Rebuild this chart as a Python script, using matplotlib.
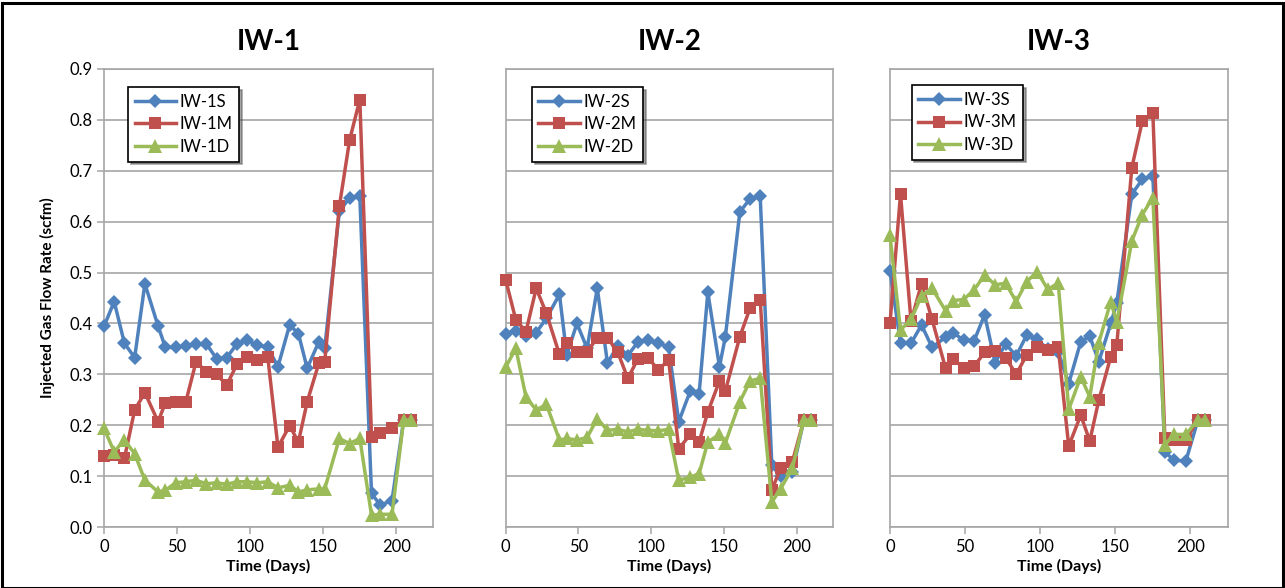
import matplotlib
matplotlib.use("Agg")
import matplotlib.pyplot as plt
from matplotlib.patches import Rectangle

plt.rcParams['font.family'] = ['Lato', 'DejaVu Sans']

# --- data ---
days = [0, 7, 14, 21, 28, 37, 42, 49, 56, 63, 70, 77, 84, 91, 98, 105, 112,
        119, 127, 133, 139, 147, 151, 161, 168, 175, 183, 189, 197, 205, 210]

iw1_s = [0.394, 0.443, 0.361, 0.333, 0.478, 0.395, 0.353, 0.353, 0.356, 0.360, 0.360,
         0.331, 0.333, 0.360, 0.367, 0.357, 0.353, 0.315, 0.397, 0.380, 0.312, 0.364,
         0.351, 0.620, 0.647, 0.650, 0.066, 0.043, 0.052, 0.210, 0.210]
iw1_m = [0.139, 0.141, 0.135, 0.230, 0.264, 0.207, 0.244, 0.245, 0.246, 0.325, 0.305,
         0.300, 0.279, 0.320, 0.335, 0.328, 0.335, 0.157, 0.199, 0.167, 0.246, 0.322,
         0.325, 0.630, 0.760, 0.840, 0.177, 0.184, 0.194, 0.210, 0.210]
iw1_d = [0.194, 0.148, 0.171, 0.144, 0.092, 0.069, 0.072, 0.087, 0.089, 0.092, 0.085,
         0.087, 0.084, 0.089, 0.089, 0.087, 0.089, 0.077, 0.082, 0.069, 0.073, 0.075,
         0.075, 0.174, 0.164, 0.174, 0.023, 0.025, 0.025, 0.210, 0.210]

iw2_s = [0.380, 0.385, 0.375, 0.382, 0.410, 0.457, 0.338, 0.400, 0.351, 0.469, 0.322,
         0.356, 0.337, 0.364, 0.367, 0.361, 0.354, 0.207, 0.268, 0.262, 0.461, 0.315,
         0.373, 0.619, 0.645, 0.650, 0.121, 0.100, 0.108, 0.210, 0.210]
iw2_m = [0.486, 0.407, 0.384, 0.469, 0.420, 0.339, 0.361, 0.343, 0.344, 0.372, 0.372,
         0.344, 0.292, 0.331, 0.333, 0.308, 0.329, 0.154, 0.182, 0.167, 0.226, 0.287,
         0.267, 0.374, 0.430, 0.447, 0.073, 0.115, 0.127, 0.210, 0.210]
iw2_d = [0.314, 0.351, 0.255, 0.230, 0.241, 0.171, 0.174, 0.171, 0.176, 0.213, 0.190,
         0.192, 0.187, 0.192, 0.190, 0.189, 0.192, 0.092, 0.098, 0.105, 0.167, 0.182,
         0.165, 0.246, 0.287, 0.292, 0.049, 0.075, 0.115, 0.210, 0.210]

iw3_s = [0.503, 0.362, 0.361, 0.397, 0.353, 0.373, 0.382, 0.367, 0.366, 0.417, 0.323,
         0.360, 0.336, 0.377, 0.369, 0.349, 0.344, 0.282, 0.364, 0.375, 0.325, 0.400,
         0.440, 0.654, 0.683, 0.690, 0.148, 0.131, 0.130, 0.210, 0.210]
iw3_m = [0.400, 0.654, 0.404, 0.478, 0.408, 0.312, 0.331, 0.312, 0.316, 0.343, 0.346,
         0.333, 0.300, 0.338, 0.353, 0.348, 0.353, 0.159, 0.220, 0.169, 0.249, 0.335,
         0.358, 0.706, 0.798, 0.814, 0.174, 0.171, 0.171, 0.211, 0.211]
iw3_d = [0.573, 0.387, 0.408, 0.454, 0.469, 0.425, 0.445, 0.447, 0.466, 0.495, 0.476,
         0.479, 0.443, 0.482, 0.502, 0.467, 0.479, 0.231, 0.295, 0.256, 0.362, 0.443,
         0.402, 0.562, 0.614, 0.647, 0.161, 0.182, 0.182, 0.210, 0.210]

wells = ['IW-1', 'IW-2', 'IW-3']
series = [[iw1_s, iw1_m, iw1_d], [iw2_s, iw2_m, iw2_d], [iw3_s, iw3_m, iw3_d]]
depths = ['S', 'M', 'D']

# --- styling ---
colors = ['#4F81BD', '#C0504D', '#9BBB59']
markers = ['D', 's', '^']
msizes = [7.5, 8.5, 9.5]
grid_c = '#A6A6A6'

# axes rectangles in figure fractions (left, bottom, width, height)
rects = [(0.0809, 0.1037, 0.2560, 0.779),
         (0.3935, 0.1037, 0.2547, 0.779),
         (0.6926, 0.1037, 0.2630, 0.779)]
leg_pos = [(0.073, 0.961), (0.080, 0.961), (0.064, 0.965)]

fig = plt.figure(figsize=(12.85, 5.88), dpi=100)
fig.patches.append(Rectangle((0.0015, 0.0), 0.997, 0.9955, transform=fig.transFigure,
                             fill=False, edgecolor='black', linewidth=2.2))

for i, well in enumerate(wells):
    ax = fig.add_axes(rects[i])
    for j in range(3):
        ax.plot(days, series[i][j], color=colors[j], marker=markers[j],
                markersize=msizes[j], linewidth=2.5, label=well + depths[j],
                markeredgewidth=0, clip_on=False, zorder=3 + j)

    ax.set_xlim(0, 225)
    ax.set_ylim(0, 0.9)
    ax.set_xticks([0, 50, 100, 150, 200])
    ax.set_yticks([0.0, 0.1, 0.2, 0.3, 0.4, 0.5, 0.6, 0.7, 0.8, 0.9])
    ax.yaxis.set_major_formatter(plt.FuncFormatter(lambda v, p: f'{v:.1f}'))
    ax.grid(True, axis='y', color=grid_c, linewidth=1.2)
    ax.set_axisbelow(True)
    for s in ax.spines.values():
        s.set_color(grid_c)
        s.set_linewidth(1.2)
    ax.tick_params(axis='both', colors=grid_c, labelcolor='black', labelsize=12,
                   length=5, width=1.1)
    if i > 0:
        ax.tick_params(axis='y', labelleft=False, length=0)

    ax.set_title(well, fontsize=20, fontweight='bold', pad=14)
    ax.set_xlabel('Time (Days)', fontsize=11.5, fontweight='bold', labelpad=3)
    if i == 0:
        ax.set_ylabel('Injected Gas Flow Rate (scfm)', fontsize=11,
                      fontweight='bold', labelpad=10)

    leg = ax.legend(loc='upper left', bbox_to_anchor=leg_pos[i], borderaxespad=0,
                    fontsize=12, handlelength=2.5, labelspacing=0.4,
                    handletextpad=0.2, borderpad=0.4, fancybox=False,
                    shadow=True, framealpha=1, edgecolor='black')
    leg.set_zorder(10)
    leg.get_frame().set_linewidth(1.2)

fig.savefig('out.png', dpi=100)
